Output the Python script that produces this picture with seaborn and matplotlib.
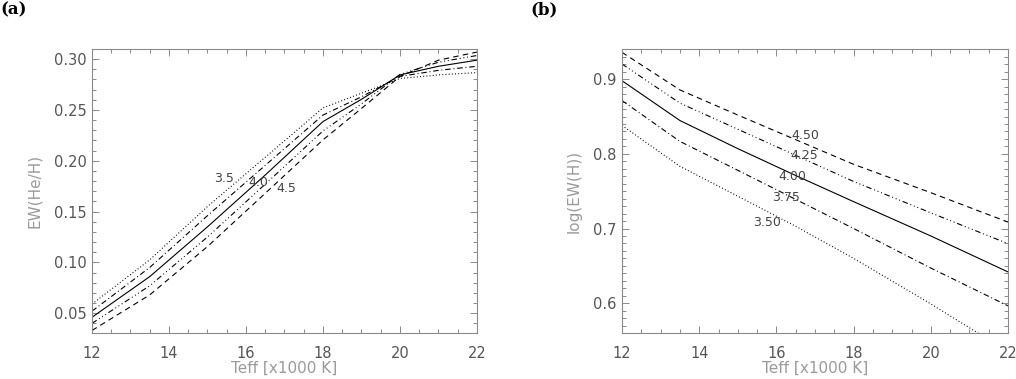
import numpy as np
import pandas as pd
import matplotlib
matplotlib.use("Agg")
import matplotlib.pyplot as plt
from matplotlib.ticker import MultipleLocator
import seaborn as sns

# ---------------- data ----------------
# Panel (a): EW(He/H) vs Teff for log g = 3.5, 3.75, 4.0, 4.25, 4.5
teff_a = [12, 13.5, 15, 16.5, 18, 19, 20, 21, 22]
ew_a_350 = [0.059, 0.1025, 0.155, 0.2035, 0.252, 0.2665, 0.281, 0.2845, 0.2868]
ew_a_375 = [0.052, 0.095, 0.146, 0.1955, 0.245, 0.263, 0.283, 0.289, 0.293]
ew_a_400 = [0.046, 0.086, 0.135, 0.186, 0.2386, 0.2605, 0.2845, 0.293, 0.299]
ew_a_425 = [0.040, 0.077, 0.125, 0.177, 0.2294, 0.256, 0.2850, 0.297, 0.3036]
ew_a_450 = [0.033, 0.068, 0.1156, 0.168, 0.2206, 0.2515, 0.2830, 0.299, 0.307]
labels_a = ["3.5", "4.0", "4.5"]

# Panel (b): log(EW(H)) vs Teff
teff_b = [12, 13.5, 15, 16.5, 18, 20, 22]
lew_b_350 = [0.838, 0.7833, 0.7433, 0.703, 0.660, 0.599, 0.535]
lew_b_375 = [0.8714, 0.8167, 0.778, 0.739, 0.700, 0.647, 0.5964]
lew_b_400 = [0.898, 0.8447, 0.807, 0.771, 0.736, 0.690, 0.6418]
lew_b_425 = [0.9204, 0.868, 0.833, 0.798, 0.763, 0.721, 0.6797]
lew_b_450 = [0.936, 0.8857, 0.852, 0.819, 0.786, 0.748, 0.7086]
labels_b = ["3.50", "3.75", "4.00", "4.25", "4.50"]

# ---------------- style ----------------
sns.set_theme(style="white")
plt.rcParams["font.family"] = ["DejaVu Sans"]
plt.rcParams["lines.scale_dashes"] = False

GREY = "#8a8a8a"
TXT = "#555555"
LBL = "#9a9a9a"

styles = {
    "350": (0, (0.7, 1.6)),
    "375": (0, (4, 2, 0.7, 2)),
    "400": "-",
    "425": (0, (4, 2, 0.7, 2, 0.7, 2, 0.7, 2)),
    "450": (0, (4, 3)),
}

fig = plt.figure(figsize=(10.16, 3.79), dpi=100)
ax1 = fig.add_axes([92 / 1016, 1 - 333 / 379, 385 / 1016, 284 / 379])
ax2 = fig.add_axes([622 / 1016, 1 - 333 / 379, 386 / 1016, 284 / 379])


def draw(ax, x, series):
    for key, y in series:
        sns.lineplot(x=x, y=y, ax=ax, color="black", lw=0.8,
                     linestyle=styles[key], estimator=None, sort=False)


draw(ax1, teff_a, [("350", ew_a_350), ("375", ew_a_375), ("400", ew_a_400),
                   ("425", ew_a_425), ("450", ew_a_450)])
draw(ax2, teff_b, [("350", lew_b_350), ("375", lew_b_375), ("400", lew_b_400),
                   ("425", lew_b_425), ("450", lew_b_450)])

ax1.set_xlim(12, 22)
ax1.set_ylim(0.0305, 0.310)
ax2.set_xlim(12, 22)
ax2.set_ylim(0.56, 0.9405)

ax1.xaxis.set_major_locator(MultipleLocator(2))
ax1.xaxis.set_minor_locator(MultipleLocator(0.5))
ax1.yaxis.set_major_locator(MultipleLocator(0.05))
ax1.yaxis.set_minor_locator(MultipleLocator(0.01))
ax2.xaxis.set_major_locator(MultipleLocator(2))
ax2.xaxis.set_minor_locator(MultipleLocator(0.5))
ax2.yaxis.set_major_locator(MultipleLocator(0.1))
ax2.yaxis.set_minor_locator(MultipleLocator(0.01))
ax1.yaxis.set_major_formatter(matplotlib.ticker.FormatStrFormatter("%.2f"))
ax2.yaxis.set_major_formatter(matplotlib.ticker.FormatStrFormatter("%.1f"))

for ax in (ax1, ax2):
    for s in ax.spines.values():
        s.set_visible(True)
        s.set_color(GREY)
        s.set_linewidth(0.8)
    ax.tick_params(which="both", direction="in", top=True, right=True,
                   bottom=True, left=True, color=GREY, width=0.7,
                   labelcolor=TXT, labelsize=10.5)
    ax.tick_params(which="major", length=5)
    ax.tick_params(which="minor", length=2.8)
    ax.tick_params(axis="x", which="major", pad=9)
    ax.tick_params(axis="y", which="major", pad=4)
    ax.set_xlabel("Teff [x1000 K]", color=LBL, fontsize=11, labelpad=0)
    ax.grid(False)

ax1.set_ylabel("EW(He/H)", color=LBL, fontsize=11, labelpad=8)
ax2.set_ylabel("log(EW(H))", color=LBL, fontsize=11, labelpad=8)

# curve labels
lab_kw = dict(fontsize=9, color="#444444", va="center", ha="left")
ax1.text(15.17, 0.183, labels_a[0], **lab_kw)
ax1.text(16.05, 0.1785, labels_a[1], **lab_kw)
ax1.text(16.8, 0.173, labels_a[2], **lab_kw)

ax2.text(15.4, 0.7086, labels_b[0], **lab_kw)
ax2.text(15.9, 0.741, labels_b[1], **lab_kw)
ax2.text(16.05, 0.770, labels_b[2], **lab_kw)
ax2.text(16.35, 0.7976, labels_b[3], **lab_kw)
ax2.text(16.4, 0.8247, labels_b[4], **lab_kw)

# panel labels
fig.text(0 / 1016, 1 - 10 / 379, "(a)", fontsize=12, fontweight="bold",
         family="DejaVu Serif", va="center", ha="left", color="black")
fig.text(530 / 1016, 1 - 10 / 379, "(b)", fontsize=12, fontweight="bold",
         family="DejaVu Serif", va="center", ha="left", color="black")

fig.savefig("out.png", dpi=100)
